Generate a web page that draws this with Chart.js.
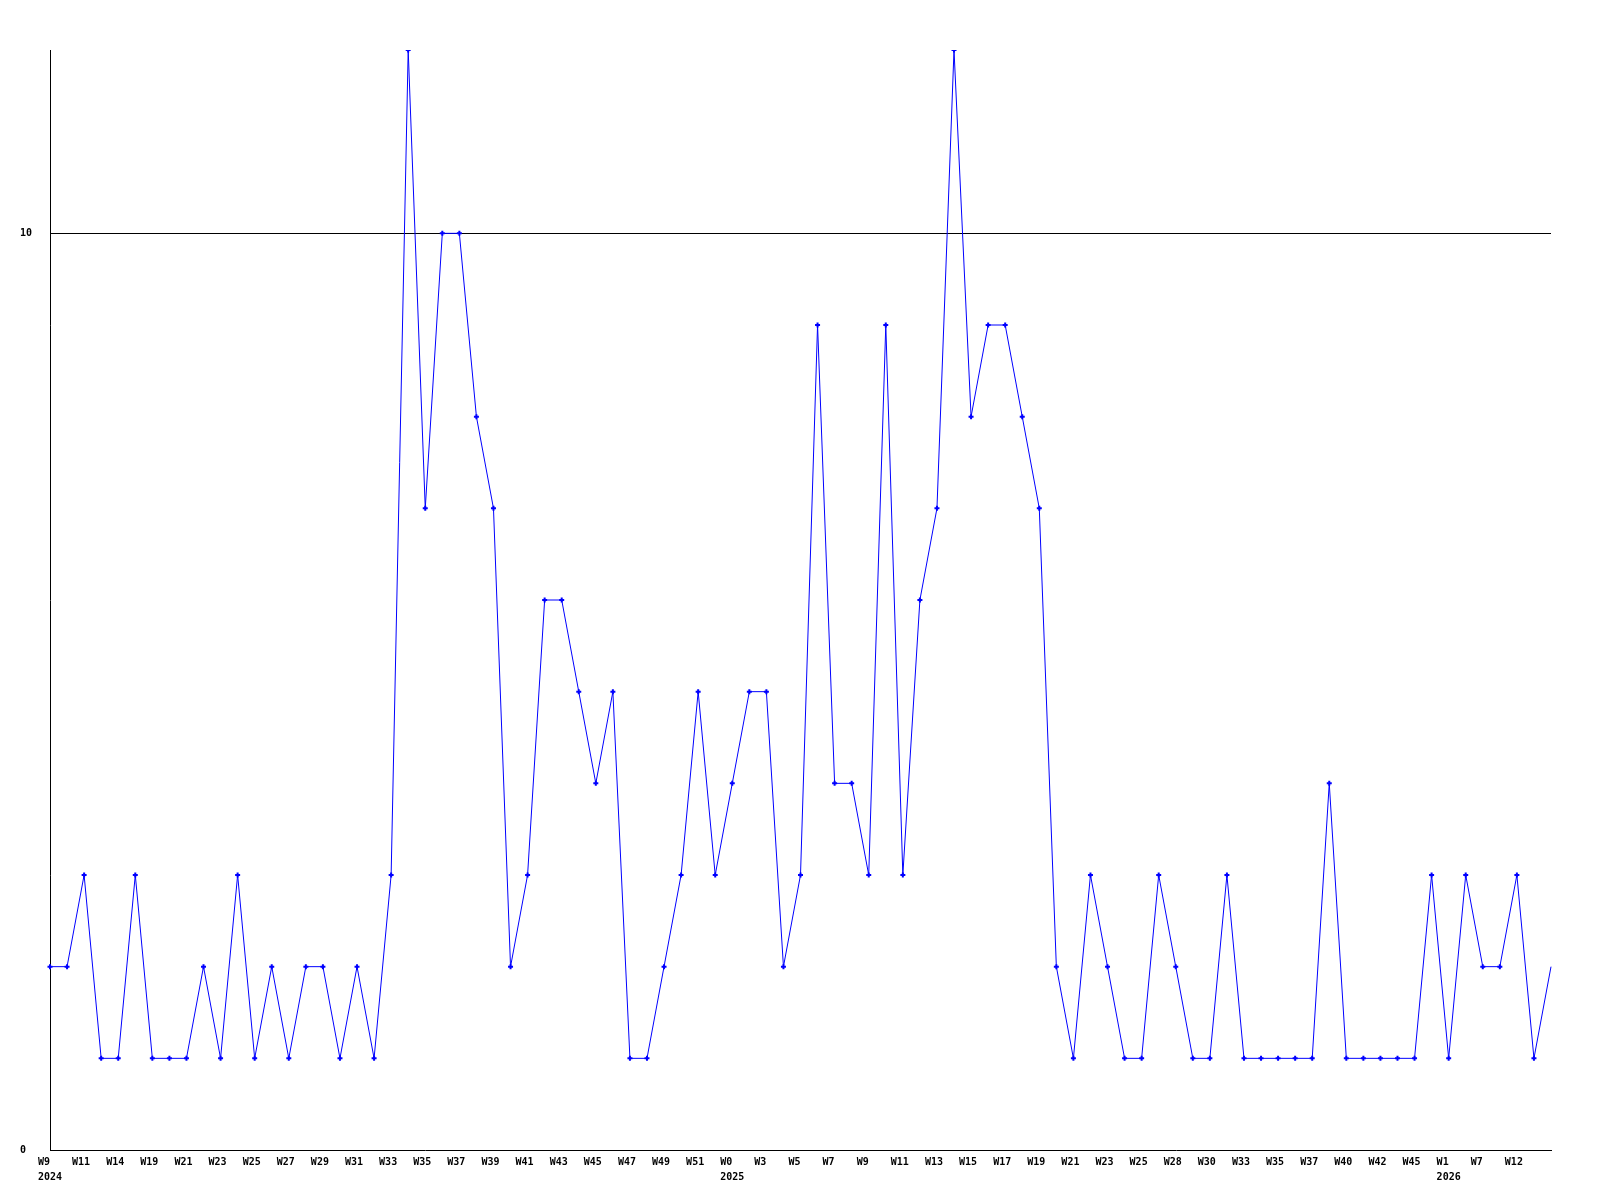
<!DOCTYPE html>
<html>
<head>
<meta charset="utf-8">
<script src="https://cdn.jsdelivr.net/npm/chart.js@4"></script>
<style>
  html, body { margin: 0; padding: 0; background: #fff; }
  #wrap { width: 1600px; height: 1200px; }
</style>
</head>
<body>
<div id="wrap"><canvas id="chart1"></canvas></div>
<script>
// weekly counts, one per week shown on the axis
const counts = [
  2, 2, 3, 1, 1, 3, 1, 1, 1, 2, 1, 3, 1, 2, 1, 2, 2, 1, 2, 1, 3,
  12, 7, 10, 10, 8, 7, 2, 3, 6, 6,
  5, 4, 5, 1, 1, 2, 3, 5, 3, 4,
  5, 5, 2, 3, 9, 4, 4, 3, 9, 3,
  6, 7, 12, 8, 9, 9, 8, 7, 2, 1,
  3, 2, 1, 1, 3, 2, 1, 1, 3, 1,
  1, 1, 1, 1, 4, 1, 1, 1, 1, 1,
  3, 1, 3, 2, 2, 3, 1, 2
];

// labels printed under every second point
const weekTicks = [
  'W9', 'W11', 'W14', 'W19', 'W21', 'W23', 'W25', 'W27', 'W29', 'W31',
  'W33', 'W35', 'W37', 'W39', 'W41', 'W43', 'W45', 'W47', 'W49', 'W51',
  'W0', 'W3', 'W5', 'W7', 'W9', 'W11', 'W13', 'W15', 'W17', 'W19',
  'W21', 'W23', 'W25', 'W28', 'W30', 'W33', 'W35', 'W37', 'W40', 'W42',
  'W45', 'W1', 'W7', 'W12'
];
const yearTicks = { 0: '2024', 20: '2025', 41: '2026' };

const labels = counts.map((_, i) => {
  if (i % 2 !== 0 || i / 2 >= weekTicks.length) return '';
  const k = i / 2;
  const lines = [weekTicks[k].padEnd(4)];
  if (yearTicks[k]) lines.push(yearTicks[k].padEnd(4));
  return lines;
});

const tickFont = { family: '"DejaVu Sans Mono", monospace', size: 10, weight: 'bold', lineHeight: 1.5 };
const lastIndex = counts.length - 1;

const chart1Context = document.getElementById('chart1').getContext('2d');
new Chart(chart1Context, {
  type: 'line',
  data: {
    labels: labels,
    datasets: [{
      data: counts,
      borderColor: '#0000ff',
      backgroundColor: '#0000ff',
      borderWidth: 1,
      fill: false,
      tension: 0,
      pointStyle: 'cross',
      pointRadius: (ctx) => ctx.dataIndex === lastIndex ? 0 : 2.5,
      pointBorderWidth: 2,
      pointBorderColor: '#0000ff'
    }]
  },
  options: {
    responsive: true,
    maintainAspectRatio: false,
    animation: false,
    layout: {
      padding: { top: 50, left: 20, right: 49, bottom: 0 }
    },
    plugins: {
      legend: { display: false },
      tooltip: { enabled: false }
    },
    scales: {
      x: {
        offset: false,
        afterFit: (scale) => { scale.height = 50; },
        grid: { display: false, drawTicks: false },
        border: { display: true, color: '#000', width: 1 },
        ticks: {
          autoSkip: false,
          maxRotation: 0,
          minRotation: 0,
          padding: 5,
          color: '#000',
          font: tickFont
        }
      },
      y: {
        min: 0,
        max: 12,
        afterFit: (scale) => { scale.width = 30; },
        grid: {
          drawTicks: false,
          color: (ctx) => ctx.tick && ctx.tick.value === 10 ? '#000' : 'rgba(0,0,0,0)',
          lineWidth: 1
        },
        border: { display: true, color: '#000', width: 1 },
        ticks: {
          stepSize: 10,
          crossAlign: 'far',
          color: '#000',
          font: tickFont,
          callback: (value) => value === 0 || value === 10 ? String(value) : ''
        }
      }
    }
  }
});
</script>
</body>
</html>
